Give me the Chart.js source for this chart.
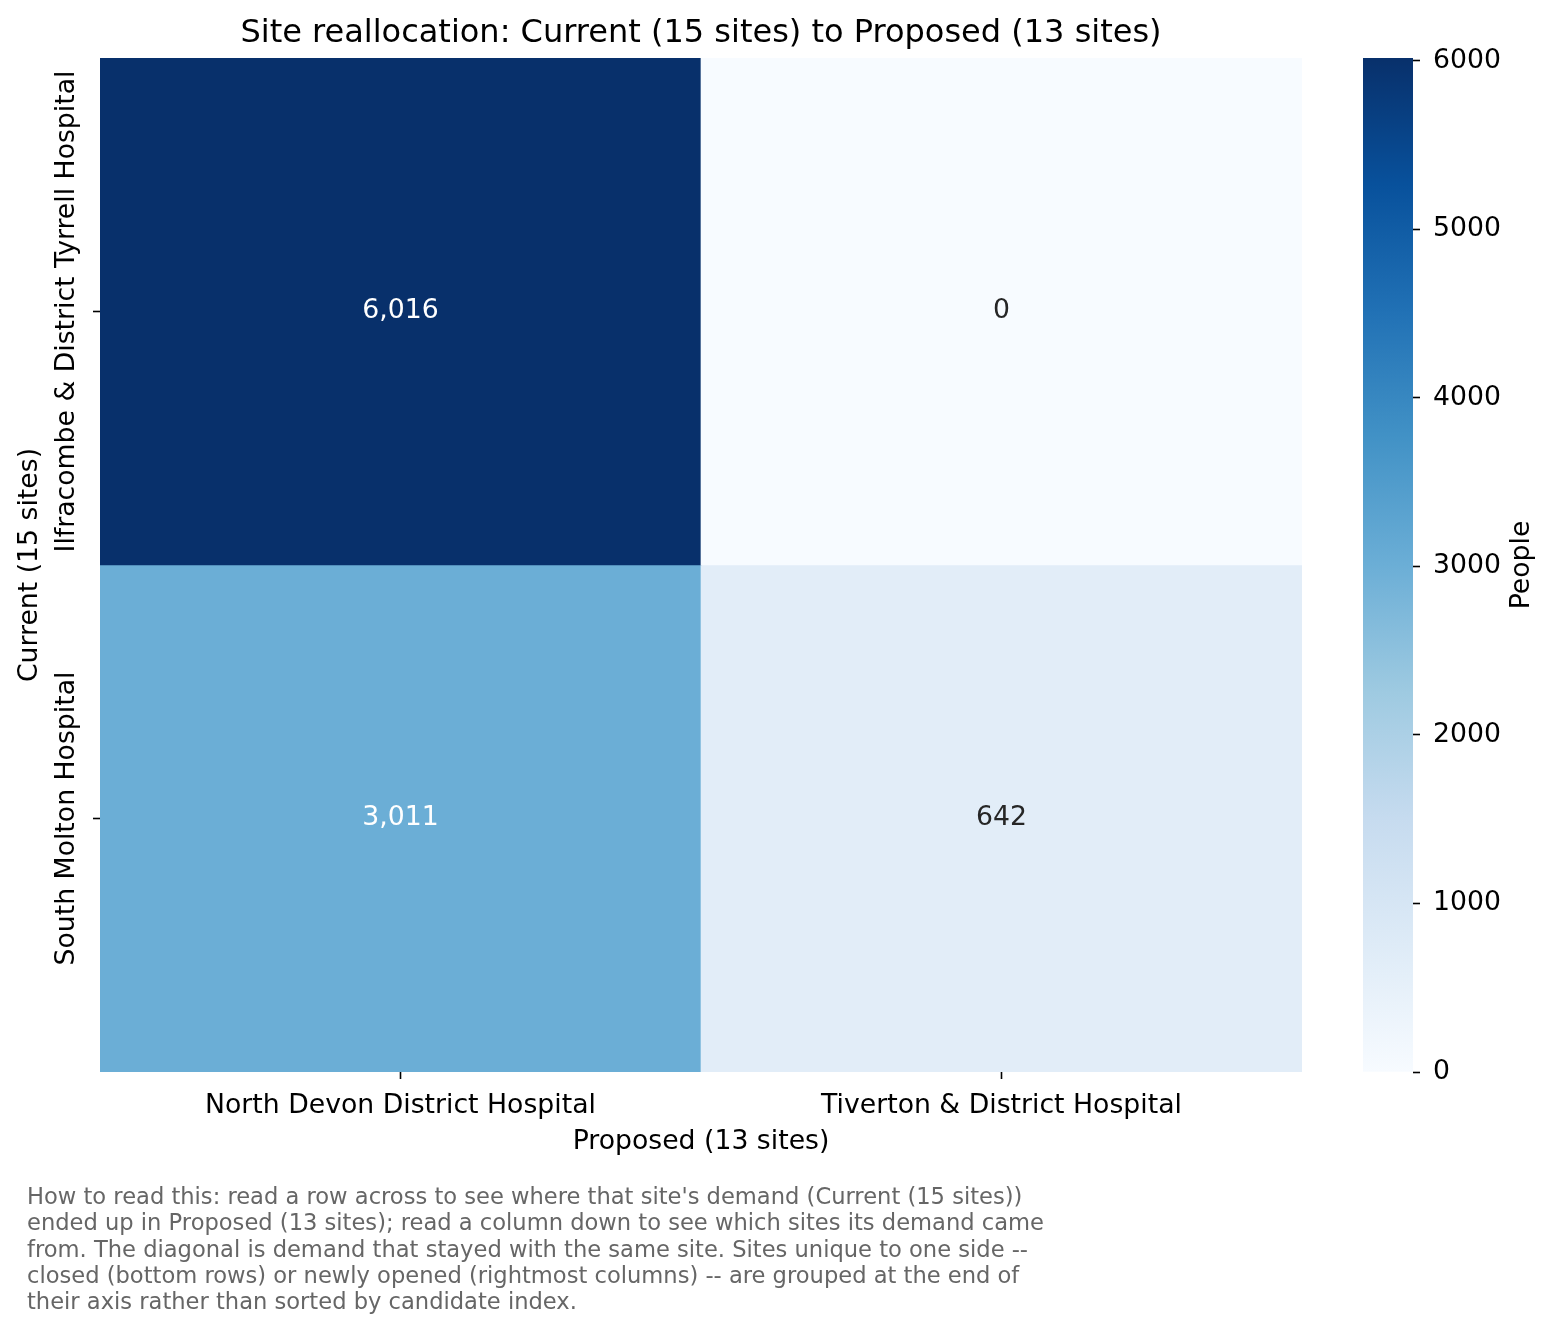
<!DOCTYPE html>
<html>
<head>
<meta charset="utf-8">
<script src="https://cdn.jsdelivr.net/npm/chart.js@4/dist/chart.umd.min.js"></script>
<style>
  body { margin: 0; background: #fff; }
  #wrap { position: relative; width: 1555px; height: 1334px; }
  #heat { position: absolute; left: 0; top: 0; }
  #cbar { position: absolute; left: 1363px; top: 0; }
</style>
</head>
<body>
<div id="wrap">
  <canvas id="heat" width="1555" height="1334"></canvas>
  <canvas id="cbar" width="192" height="1334"></canvas>
</div>
<script>
// Data
const proposedSites = ["North Devon District Hospital", "Tiverton & District Hospital"];
const currentSites = ["Ilfracombe & District Tyrrell Hospital", "South Molton Hospital"];
const fromIlfracombe = [6016, 0];
const fromSouthMolton = [3011, 642];
const flows = [fromIlfracombe, fromSouthMolton];
const colorbarTicks = [0, 1000, 2000, 3000, 4000, 5000, 6000];
const footnoteLines = [
  "How to read this: read a row across to see where that site's demand (Current (15 sites))",
  "ended up in Proposed (13 sites); read a column down to see which sites its demand came",
  "from. The diagonal is demand that stayed with the same site. Sites unique to one side --",
  "closed (bottom rows) or newly opened (rightmost columns) -- are grouped at the end of",
  "their axis rather than sorted by candidate index."
];

const vmax = Math.max(...flows.flat());
const FS = 26.7; // tick / label font size

Chart.defaults.font.family = "'DejaVu Sans', sans-serif";
Chart.defaults.color = "#000";

// matplotlib "Blues"
const blues = [
  [247, 251, 255], [222, 235, 247], [198, 219, 239], [158, 202, 225], [107, 174, 214],
  [66, 146, 198], [33, 113, 181], [8, 81, 156], [8, 48, 107]
];

function bluesRgb(t) {
  t = Math.max(0, Math.min(1, t)) * (blues.length - 1);
  let i = Math.min(Math.floor(t), blues.length - 2);
  let f = t - i;
  return blues[i].map((c, k) => c + (blues[i + 1][k] - c) * f);
}

function rgbStr(c) {
  return `rgb(${Math.round(c[0])},${Math.round(c[1])},${Math.round(c[2])})`;
}

function luminance(c) {
  let lin = c.map((v) => {
    v = v / 255;
    return v <= 0.03928 ? v / 12.92 : Math.pow((v + 0.055) / 1.055, 2.4);
  });
  return 0.2126 * lin[0] + 0.7152 * lin[1] + 0.0722 * lin[2];
}

// Cell labels, rotated y labels and footnote
const heatText = {
  id: "heatText",
  afterDatasetsDraw(chart) {
    const ctx = chart.ctx;
    const xs = chart.scales.x;
    const ys = chart.scales.y;
    ctx.save();
    ctx.font = FS + "px 'DejaVu Sans'";
    ctx.textAlign = "center";
    ctx.textBaseline = "middle";
    flows.forEach((row, r) => {
      row.forEach((v, c) => {
        let col = bluesRgb(v / vmax);
        ctx.fillStyle = luminance(col) > 0.408 ? "#262626" : "#fff";
        ctx.fillText(v.toLocaleString("en-US"), xs.getPixelForValue(c), ys.getPixelForValue(r + 0.5));
      });
    });
    ctx.restore();
  },
  afterDraw(chart) {
    const ctx = chart.ctx;
    const ys = chart.scales.y;
    ctx.save();
    ctx.font = FS + "px 'DejaVu Sans'";
    ctx.fillStyle = "#000";
    ctx.textAlign = "center";
    ctx.textBaseline = "middle";
    currentSites.forEach((name, r) => {
      ctx.save();
      ctx.translate(67, ys.getPixelForValue(r + 0.5));
      ctx.rotate(-Math.PI / 2);
      ctx.fillText(name, 0, 0);
      ctx.restore();
    });

    ctx.font = "22.6px 'DejaVu Sans'";
    ctx.fillStyle = "#666";
    ctx.textAlign = "left";
    ctx.textBaseline = "alphabetic";
    footnoteLines.forEach((line, i) => {
      ctx.fillText(line, 27, 1204 + i * 26.3);
    });
    ctx.restore();
  }
};

new Chart(document.getElementById("heat"), {
  type: "bar",
  data: {
    labels: proposedSites,
    datasets: flows.map((row, r) => ({
      label: currentSites[r],
      data: row.map(() => [r, r + 1]),
      backgroundColor: row.map((v) => rgbStr(bluesRgb(v / vmax))),
      borderWidth: 0,
      barPercentage: 1,
      categoryPercentage: 1,
      grouped: false,
    })),
  },
  options: {
    responsive: false,
    devicePixelRatio: 1,
    animation: false,
    layout: { padding: { left: 0, right: 253, top: 0, bottom: 172 } },
    plugins: {
      legend: { display: false },
      tooltip: { enabled: false },
      title: {
        display: true,
        fullSize: false,
        text: "Site reallocation: Current (15 sites) to Proposed (13 sites)",
        font: { size: 32, weight: "normal" },
        color: "#000",
        padding: { top: 14.5, bottom: 5.1 },
      },
    },
    scales: {
      x: {
        type: "category",
        grid: { drawOnChartArea: false, offset: false, color: "#000", tickLength: 7, tickWidth: 1.6 },
        border: { display: false },
        ticks: { font: { size: FS }, color: "#000", padding: 11, maxRotation: 0 },
        title: {
          display: true,
          text: "Proposed (13 sites)",
          font: { size: FS },
          color: "#000",
          padding: { top: 0, bottom: 4 },
        },
        afterFit(scale) {
          scale.height = 90;
        },
      },
      y: {
        type: "linear",
        min: 0,
        max: currentSites.length,
        reverse: true,
        grid: { drawOnChartArea: false, color: "#000", tickLength: 7, tickWidth: 1.6 },
        border: { display: false },
        ticks: { callback: () => "" },
        afterBuildTicks(scale) {
          scale.ticks = currentSites.map((_, i) => ({ value: i + 0.5 }));
        },
        title: {
          display: true,
          text: "Current (15 sites)",
          font: { size: FS },
          color: "#000",
          padding: { top: 14, bottom: 0 },
        },
        afterFit(scale) {
          scale.width = 100;
        },
      },
    },
  },
  plugins: [heatText],
});

// Colorbar
const cbarLabel = {
  id: "cbarLabel",
  afterDraw(chart) {
    const ctx = chart.ctx;
    ctx.save();
    ctx.font = FS + "px 'DejaVu Sans'";
    ctx.fillStyle = "#000";
    ctx.textAlign = "center";
    ctx.textBaseline = "middle";
    ctx.translate(159, (chart.chartArea.top + chart.chartArea.bottom) / 2);
    ctx.rotate(-Math.PI / 2);
    ctx.fillText("People", 0, 0);
    ctx.restore();
  }
};

new Chart(document.getElementById("cbar"), {
  type: "bar",
  data: {
    labels: [""],
    datasets: [{
      data: [[0, vmax]],
      borderWidth: 0,
      barPercentage: 1,
      categoryPercentage: 1,
      backgroundColor(context) {
        const chart = context.chart;
        const ys = chart.scales.y;
        if (!ys || !chart.chartArea) return "#ccc";
        const y0 = ys.getPixelForValue(0);
        const y1 = ys.getPixelForValue(vmax);
        if (!Number.isFinite(y0) || !Number.isFinite(y1)) return "#ccc";
        const g = chart.ctx.createLinearGradient(0, y0, 0, y1);
        blues.forEach((c, i) => g.addColorStop(i / (blues.length - 1), rgbStr(c)));
        return g;
      },
    }],
  },
  options: {
    responsive: false,
    devicePixelRatio: 1,
    animation: false,
    layout: { padding: { left: 0, right: 0, top: 58, bottom: 262 } },
    plugins: { legend: { display: false }, tooltip: { enabled: false } },
    scales: {
      x: { display: false },
      y: {
        position: "right",
        min: 0,
        max: vmax,
        grid: { drawOnChartArea: false, color: "#000", tickLength: 7, tickWidth: 1.6 },
        border: { display: false },
        ticks: { font: { size: FS }, color: "#000", padding: 13, callback: (v) => String(v) },
        afterBuildTicks(scale) {
          scale.ticks = colorbarTicks.map((v) => ({ value: v }));
        },
        afterFit(scale) {
          scale.width = 142;
        },
      },
    },
  },
  plugins: [cbarLabel],
});
</script>
</body>
</html>
